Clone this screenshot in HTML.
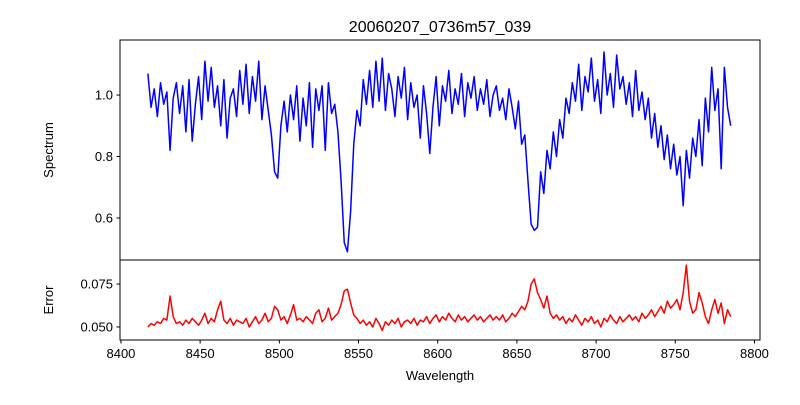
<!DOCTYPE html>
<html><head><meta charset="utf-8">
<style>
body{margin:0;background:#fff;}
svg text{font-family:"Liberation Sans","DejaVu Sans",sans-serif;fill:#000;}
</style></head>
<body>
<svg id="chart" width="800" height="400" viewBox="0 0 800 400" xmlns="http://www.w3.org/2000/svg">
<rect width="800" height="400" fill="#fff"/>
<text x="440" y="32" font-size="16" text-anchor="middle">20060207_0736m57_039</text>
<g id="gtop"></g><g id="gbot"></g>
<text transform="translate(53,150) rotate(-90)" font-size="13" text-anchor="middle">Spectrum</text>
<text transform="translate(53,300) rotate(-90)" font-size="13" text-anchor="middle">Error</text>
<text x="440" y="380" font-size="13" text-anchor="middle">Wavelength</text>
</svg>
<script>
const wlStart = 8417, wlStep = 2;
const flux = [1.07,0.96,1.02,0.93,1.04,0.97,1.01,0.82,0.99,1.04,
0.94,1.03,0.88,1.05,0.85,0.97,1.06,0.92,1.11,0.98,
1.09,0.96,1.03,0.90,1.05,0.86,0.99,1.02,0.93,1.08,
0.97,1.10,0.94,1.06,0.98,1.11,0.92,1.03,0.95,0.87,
0.75,0.73,0.90,0.98,0.88,1.00,0.92,1.03,0.85,0.99,
0.90,1.04,0.83,1.02,0.95,1.03,0.82,1.04,0.94,0.97,
0.88,0.72,0.52,0.49,0.62,0.84,0.95,0.90,1.05,0.97,
1.08,0.96,1.11,0.98,1.12,0.95,1.07,1.02,0.93,1.06,
0.99,1.09,0.92,1.04,0.96,1.00,0.86,1.03,0.94,0.81,
0.96,1.06,0.90,1.03,0.98,1.08,0.94,1.02,0.97,1.07,
0.93,1.04,0.99,1.06,0.95,1.02,0.97,1.05,0.93,1.00,
1.03,0.95,0.99,0.92,1.02,0.96,0.89,0.98,0.84,0.87,
0.72,0.58,0.56,0.57,0.75,0.68,0.82,0.76,0.88,0.80,
0.92,0.86,0.99,0.94,1.04,0.98,1.10,0.95,1.06,1.01,
1.12,0.98,1.05,0.94,1.14,1.00,1.07,0.96,1.13,1.02,
1.06,0.97,1.04,0.93,1.08,0.95,1.01,0.92,0.99,0.86,
0.94,0.83,0.90,0.79,0.87,0.76,0.84,0.74,0.80,0.64,
0.82,0.73,0.86,0.80,0.92,0.77,0.99,0.88,1.09,0.95,
1.02,0.76,1.09,0.96,0.90];
const errv = [0.050,0.052,0.051,0.053,0.052,0.055,0.054,0.068,0.056,0.052,
0.053,0.051,0.054,0.052,0.055,0.053,0.051,0.054,0.058,0.052,
0.055,0.053,0.060,0.065,0.054,0.052,0.055,0.051,0.054,0.053,
0.052,0.055,0.050,0.053,0.056,0.052,0.054,0.058,0.053,0.055,
0.062,0.060,0.054,0.056,0.052,0.057,0.063,0.054,0.055,0.053,
0.056,0.054,0.052,0.058,0.060,0.053,0.055,0.061,0.054,0.056,
0.058,0.063,0.071,0.072,0.064,0.057,0.055,0.052,0.054,0.051,
0.053,0.050,0.055,0.052,0.048,0.053,0.051,0.054,0.052,0.055,
0.050,0.053,0.054,0.052,0.055,0.051,0.054,0.053,0.056,0.052,
0.055,0.057,0.053,0.056,0.054,0.058,0.055,0.053,0.057,0.054,
0.056,0.053,0.055,0.057,0.054,0.056,0.053,0.055,0.057,0.054,
0.056,0.054,0.057,0.053,0.055,0.058,0.056,0.059,0.062,0.060,
0.065,0.075,0.078,0.070,0.066,0.061,0.068,0.058,0.055,0.057,
0.054,0.056,0.052,0.055,0.053,0.057,0.054,0.051,0.055,0.053,
0.056,0.052,0.054,0.050,0.055,0.053,0.057,0.054,0.052,0.056,
0.053,0.055,0.057,0.054,0.056,0.053,0.058,0.055,0.057,0.060,
0.056,0.059,0.062,0.058,0.065,0.061,0.063,0.066,0.060,0.070,
0.086,0.065,0.058,0.060,0.070,0.064,0.056,0.052,0.060,0.066,
0.058,0.064,0.052,0.060,0.056];
const xTicks = [8400,8450,8500,8550,8600,8650,8700,8750,8800];
const fluxTicks = [0.6,0.8,1.0];
const errTicks = [0.050,0.075];

const NS='http://www.w3.org/2000/svg';
const L=120,R=760,T1=40,B1=260,T2=260,B2=340;
const xmin=8399.4,xmax=8803.5;
const fmin=0.4634,fmax=1.179;
const emin=0.0424,emax=0.089;
const xs=v=>L+(v-xmin)/(xmax-xmin)*(R-L);
const yf=v=>B1-(v-fmin)/(fmax-fmin)*(B1-T1);
const ye=v=>B2-(v-emin)/(emax-emin)*(B2-T2);
function mk(tag,attrs,parent){const e=document.createElementNS(NS,tag);for(const k in attrs)e.setAttribute(k,attrs[k]);parent.appendChild(e);return e;}
const gTop=document.getElementById('gtop'),gBot=document.getElementById('gbot');

function drawLine(arr,yfn,color,parent,name){
  let d='';
  arr.forEach((v,i)=>{d+=(i?'L':'M')+xs(wlStart+i*wlStep).toFixed(2)+','+yfn(v).toFixed(2);});
  const p=mk('path',{d:d,fill:'none',stroke:color,'stroke-width':1.5,'stroke-linejoin':'round'},parent);
  
  
}
drawLine(flux,yf,'#0000ff',gTop,'spectrum-line');
drawLine(errv,ye,'#ff0000',gBot,'error-line');

const f1=mk('rect',{x:L,y:T1,width:R-L,height:B1-T1,fill:'none',stroke:'#000','stroke-width':1},gTop);


const f2=mk('rect',{x:L,y:T2,width:R-L,height:B2-T2,fill:'none',stroke:'#000','stroke-width':1},gBot);



fluxTicks.forEach(v=>{
  const y=yf(v);
  mk('line',{x1:L-3.5,x2:L,y1:y,y2:y,stroke:'#000'},gTop);
  const t=mk('text',{x:L-7,y:y+4.5,'font-size':13,'text-anchor':'end'},gTop);
  t.textContent=v.toFixed(1);
  
  
});
errTicks.forEach(v=>{
  const y=ye(v);
  mk('line',{x1:L-3.5,x2:L,y1:y,y2:y,stroke:'#000'},gBot);
  const t=mk('text',{x:L-7,y:y+4.5,'font-size':13,'text-anchor':'end'},gBot);
  t.textContent=v.toFixed(3);
  
  
});
xTicks.forEach(v=>{
  const x=xs(v);
  mk('line',{x1:x,x2:x,y1:B2,y2:B2+3.5,stroke:'#000'},gBot);
  const t=mk('text',{x:x,y:B2+18,'font-size':13,'text-anchor':'middle'},gBot);
  t.textContent=v;
  
  
});
</script>
</body></html>
